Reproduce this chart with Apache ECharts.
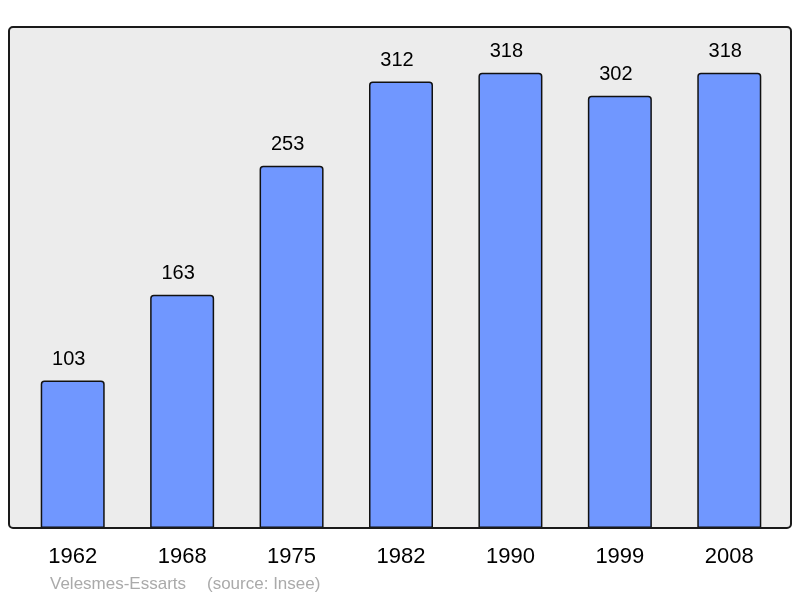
<!DOCTYPE html>
<html>
<head>
<meta charset="utf-8">
<script src="https://cdn.jsdelivr.net/npm/echarts@6/dist/echarts.min.js"></script>
<style>
  html, body { margin: 0; padding: 0; background: #fff; }
  #chart { width: 800px; height: 598px; }
</style>
</head>
<body>
<div id="chart"></div>
<script>
// population by census year
var years = ['1962', '1968', '1975', '1982', '1990', '1999', '2008'];
var population = [103, 163, 253, 312, 318, 302, 318];

var chart = echarts.init(document.getElementById('chart'), null, { renderer: 'canvas' });

var option = {
  backgroundColor: '#fff',
  animation: false,
  textStyle: { fontFamily: 'Liberation Sans, Arial, sans-serif' },
  grid: { left: 18, right: 16, top: 27, bottom: 70 },
  graphic: [
    {
      // panel background
      type: 'rect', z: -10,
      shape: { x: 9, y: 27, width: 782, height: 501, r: 4 },
      style: { fill: '#ececec', stroke: null }
    },
    {
      // panel frame, drawn over the bars
      type: 'rect', z: 100,
      shape: { x: 9, y: 27, width: 782, height: 501, r: 4 },
      style: { fill: null, stroke: '#1a1a1a', lineWidth: 2 }
    },
    {
      type: 'text', left: 50, top: 576,
      style: {
        text: 'Velesmes-Essarts',
        fill: '#aaaaaa', font: '17px Liberation Sans, Arial, sans-serif'
      }
    },
    {
      type: 'text', left: 207, top: 576,
      style: {
        text: '(source: Insee)',
        fill: '#aaaaaa', font: '17px Liberation Sans, Arial, sans-serif'
      }
    }
  ],
  xAxis: {
    type: 'category',
    data: years,
    axisLine: { show: false },
    axisTick: { show: false },
    axisLabel: { color: '#000', fontSize: 22, margin: 18 }
  },
  yAxis: {
    type: 'value',
    min: 0, max: 350,
    show: false,
    splitLine: { show: false }
  },
  series: [{
    type: 'bar',
    data: population,
    barWidth: 64,
    itemStyle: {
      color: '#7097ff',
      borderColor: '#111',
      borderWidth: 1.5,
      borderRadius: [3, 3, 0, 0]
    },
    label: {
      show: true,
      position: 'top',
      distance: 11,
      offset: [-4, 0],
      color: '#000',
      fontSize: 20
    }
  }]
};

chart.setOption(option);
</script>
</body>
</html>
